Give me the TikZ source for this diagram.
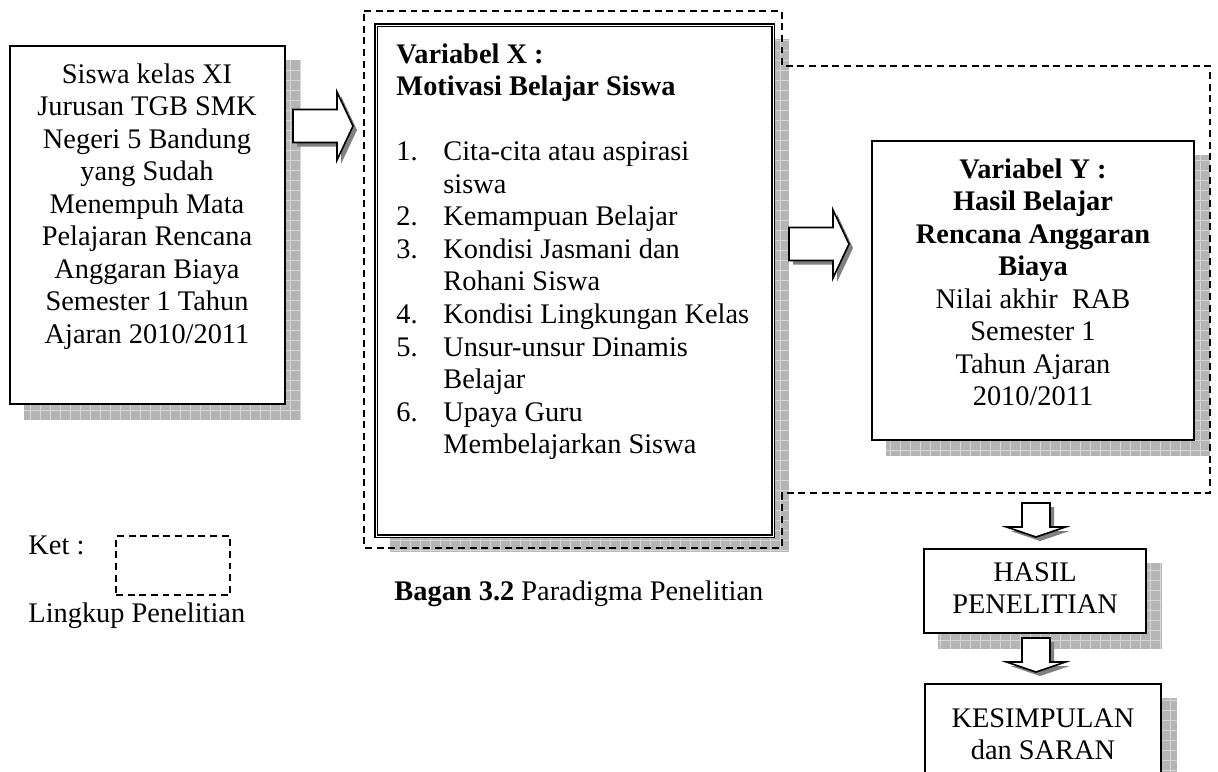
\documentclass[tikz,border=0pt]{standalone}
\usepackage{fontspec}
\setmainfont{Liberation Serif}
\usetikzlibrary{calc,fit}
\pgfdeclarelayer{bgpaper}
\pgfdeclarelayer{bg}
\pgfsetlayers{bgpaper,bg,main}
\newcommand\mkshadow[1]{%
  \begin{pgfonlayer}{bg}
    \fill[shadowfill] ($(#1.north west)+(15,15)$) rectangle ($(#1.south east)+(15,15)$);
    \draw[shadowgrid] ($(#1.north west)+(15,15)$) grid ($(#1.south east)+(15,15)$);
  \end{pgfonlayer}}
\tikzset{
  shadowfill/.style={fill=gray!58},
  shadowgrid/.style={draw=gray!32, line width=0.35pt, step=4.3pt},
  box/.style={draw=black, line width=0.8pt, fill=white, inner sep=0pt},
  lingkup/.style={draw=black, line width=0.7pt, dash pattern=on 3pt off 2pt},
  txt/.style={inner sep=0pt, font=\fontsize{12.2}{14}\selectfont},
  arrowshadow/.style={fill=black!50},
  arrowline/.style={draw=black, fill=white, line width=0.7pt, line join=miter},
  rblock/.pic={
    \fill[arrowshadow, shift={(4,4)}] (0,-16.5) -- (44,-16.5) -- (44,-34) -- (60,0) -- (44,34) -- (44,16.5) -- (0,16.5) -- cycle;
    \draw[arrowline] (0,-16.5) -- (44,-16.5) -- (44,-34) -- (60,0) -- (44,34) -- (44,16.5) -- (0,16.5) -- cycle;
  },
  dblock/.pic={
    \fill[arrowshadow, shift={(4,4)}] (-14,0) -- (-14,24) -- (-29.5,24) -- (0,34) -- (29.5,24) -- (14,24) -- (14,0) -- cycle;
    \draw[arrowline] (-14,0) -- (-14,24) -- (-29.5,24) -- (0,34) -- (29.5,24) -- (14,24) -- (14,0) -- cycle;
  }
}
\begin{document}
\begin{tikzpicture}[x=0.43pt, y=-0.43pt]
\useasboundingbox (0,0) rectangle (1218,771);
\begin{pgfonlayer}{bgpaper}
\fill[white] (0,0) rectangle (1218,771);
\end{pgfonlayer}

% boxes
\node[box, fit={(10,46)(285,404)}] (src) {};
\node[box, double, double distance=0.3pt, line width=0.55pt, fit={(376,25)(773,536)}] (varx) {};
\node[box, fit={(872,141)(1194,440)}] (vary) {};
\node[box, fit={(924,549)(1146,633)}] (hasil) {};
\node[box, fit={(925,684)(1161,800)}] (kes) {};

\mkshadow{src}
\mkshadow{varx}
\mkshadow{vary}
\mkshadow{hasil}
\mkshadow{kes}

% texts
\node[txt, anchor=base] (srctext) at (147,83) {\begin{tabular}[t]{@{}c@{}}
Siswa kelas XI\\
Jurusan TGB SMK\\
Negeri 5 Bandung\\
yang Sudah\\
Menempuh Mata\\
Pelajaran Rencana\\
Anggaran Biaya\\
Semester 1 Tahun\\
Ajaran 2010/2011
\end{tabular}};

\node[txt, anchor=base west] (varxtext) at (396,63) {\begin{tabular}[t]{@{}l@{}}
\textbf{Variabel X :}\\
\textbf{Motivasi Belajar Siswa}\\
\\
\makebox[20.2pt][l]{1.}Cita-cita atau aspirasi\\
\hspace*{20.2pt}siswa\\
\makebox[20.2pt][l]{2.}Kemampuan Belajar\\
\makebox[20.2pt][l]{3.}Kondisi Jasmani dan\\
\hspace*{20.2pt}Rohani Siswa\\
\makebox[20.2pt][l]{4.}Kondisi Lingkungan Kelas\\
\makebox[20.2pt][l]{5.}Unsur-unsur Dinamis\\
\hspace*{20.2pt}Belajar\\
\makebox[20.2pt][l]{6.}Upaya Guru\\
\hspace*{20.2pt}Membelajarkan Siswa
\end{tabular}};

\node[txt, anchor=base] (varytext) at (1033,178) {\begin{tabular}[t]{@{}c@{}}
\textbf{Variabel Y :}\\
\textbf{Hasil Belajar}\\
\textbf{Rencana Anggaran}\\
\textbf{Biaya}\\
Nilai akhir\ \ RAB\\
Semester 1\\
Tahun Ajaran\\
2010/2011
\end{tabular}};

\node[txt, anchor=base] (hasiltext) at (1035,581) {\begin{tabular}[t]{@{}c@{}}HASIL\\PENELITIAN\end{tabular}};
\node[txt, anchor=base] (kestext) at (1043,727) {\begin{tabular}[t]{@{}c@{}}KESIMPULAN\\dan SARAN\end{tabular}};

% research scope (dashed)
\draw[lingkup] (364,11) -- (782,11) -- (782,66) -- (1210,66) -- (1210,493) -- (782,493) -- (782,548) -- (364,548) -- cycle;

% block arrows
\pic (arr1) at (293,126) {rblock};
\pic (arr2) at (789,244) {rblock};
\pic (arr3) at (1036,503) {dblock};
\pic (arr4) at (1036,638) {dblock};

% legend
\node[txt, anchor=base west] (ket) at (28,554) {Ket :};
\node[lingkup, inner sep=0pt, fit={(116,536)(230,595)}] (legbox) {};
\node[txt, anchor=base west] (leglabel) at (28,622) {Lingkup Penelitian};

% caption
\node[txt, anchor=base west] (caption) at (394,600) {\textbf{Bagan 3.2} Paradigma Penelitian};
\end{tikzpicture}
\end{document}
